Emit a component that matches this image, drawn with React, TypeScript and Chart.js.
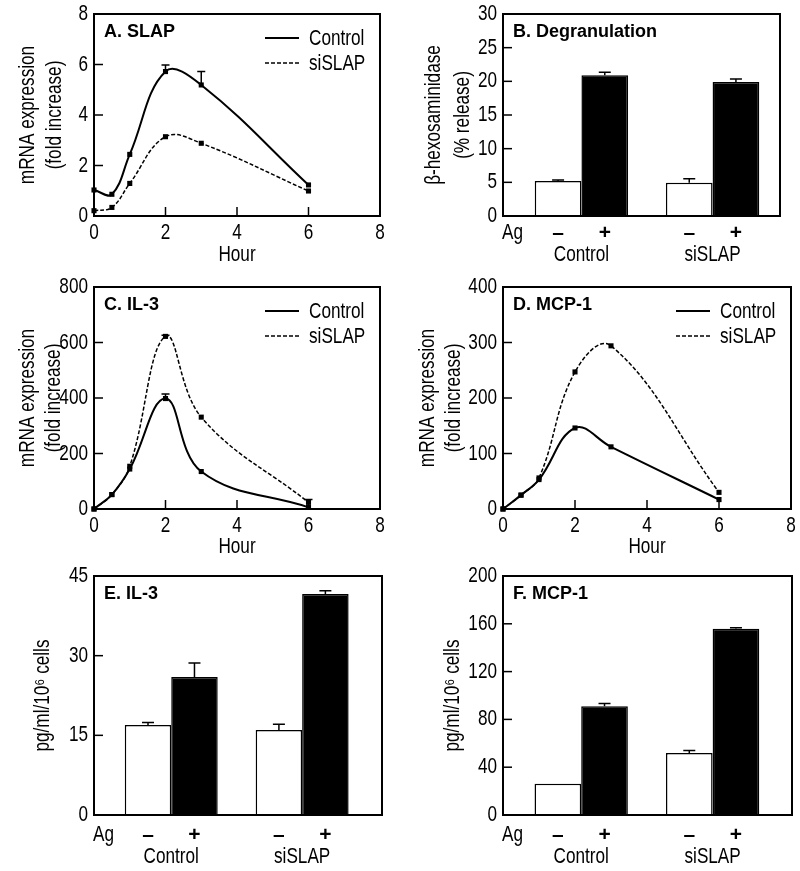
import React, { useEffect, useRef } from 'react';
import { Chart, registerables } from 'chart.js';
Chart.register(...registerables);

const WIDE = '"Liberation Sans", Arial, sans-serif';
const NARROW_X = 0.78; // narrow (Helvetica-Narrow-like) text
const TEXT_SIZE = 22;

// ---------------- data ----------------
const hours = [0, 0.5, 1, 2, 3, 6];
const seriesNames = ['Control', 'siSLAP'];

// A. SLAP mRNA (fold increase)
const slapControl = [1.03, 0.86, 2.44, 5.72, 5.19, 1.23];
const slapControlErr = [0, 0, 0, 0.26, 0.53, 0];
const slapSi = [0.21, 0.34, 1.29, 3.14, 2.88, 0.99];
const slapSiErr = [0, 0, 0, 0, 0, 0];

// C. IL-3 mRNA
const il3Control = [0, 52, 144, 398, 135, 6];
const il3ControlErr = [0, 0, 0, 16, 0, 0];
const il3Si = [0, 52, 154, 622, 331, 24];
const il3SiErr = [0, 0, 0, 4, 0, 10];

// D. MCP-1 mRNA
const mcpControl = [0, 25, 53, 146, 112, 17];
const mcpControlErr = [0, 0, 0, 0, 0, 0];
const mcpSi = [0, 25, 56, 247, 294, 30];
const mcpSiErr = [0, 0, 0, 0, 0, 0];

// Bar panels
const groupLabels = ['Control', 'siSLAP'];
const agSigns = ['–', '+'];

// B. Degranulation (% release)
const degranMinus = [5.2, 4.95];
const degranMinusErr = [0.15, 0.6];
const degranPlus = [20.9, 19.9];
const degranPlusErr = [0.45, 0.45];

// E. IL-3 protein (pg/ml/10^6 cells)
const il3ElisaMinus = [16.95, 16.0];
const il3ElisaMinusErr = [0.45, 1.1];
const il3ElisaPlus = [26.0, 41.6];
const il3ElisaPlusErr = [2.6, 0.6];

// F. MCP-1 protein
const mcpElisaMinus = [26.2, 51.8];
const mcpElisaMinusErr = [0, 2.2];
const mcpElisaPlus = [91.0, 155.9];
const mcpElisaPlusErr = [2.4, 0.8];

// ---------------- text helpers ----------------
function txt(ctx: any, s: string, x: number, y: number, align: string, size = TEXT_SIZE, bold = false, sx = NARROW_X, rot = 0) {
  ctx.save();
  ctx.translate(x, y);
  if (rot) ctx.rotate(rot);
  ctx.scale(sx, 1);
  ctx.font = `${bold ? 'bold ' : ''}${size}px ${WIDE}`;
  ctx.textAlign = align;
  ctx.textBaseline = 'middle';
  ctx.fillStyle = '#000';
  ctx.fillText(s, 0, 0);
  ctx.restore();
}

// ---------------- plugins ----------------
const decorPlugin = {
  id: 'decor',
  afterDraw(chart: any, _args: any, o: any) {
    const { ctx, chartArea: a } = chart;
    ctx.save();
    ctx.strokeStyle = '#000';
    ctx.fillStyle = '#000';
    ctx.lineWidth = 1.5;
    const ys = chart.scales.y;
    ys.ticks.forEach((t: any) => {
      const p = ys.getPixelForValue(t.value);
      txt(ctx, String(t.label), a.left - 6, p, 'right');
      if (p <= a.top + 1 || p >= a.bottom - 1) return;
      ctx.beginPath();
      ctx.moveTo(a.left, p);
      ctx.lineTo(a.left + 9, p);
      ctx.stroke();
    });
    if (o.xTicks) {
      const xs = chart.scales.x;
      xs.ticks.forEach((t: any) => {
        const p = xs.getPixelForValue(t.value);
        txt(ctx, String(t.label), p, a.bottom + 16.5, 'center');
        if (p <= a.left + 1 || p >= a.right - 1) return;
        ctx.beginPath();
        ctx.moveTo(p, a.bottom);
        ctx.lineTo(p, a.bottom - 9);
        ctx.stroke();
      });
      txt(ctx, o.xTitle, (a.left + a.right) / 2, o.xTitleY, 'center');
    }
    // y-axis title (rotated)
    const yc = (a.top + a.bottom) / 2;
    (o.yTitle as string[]).forEach((line: string, i: number) => {
      txt(ctx, line, o.yTitleX[i], yc, 'center', TEXT_SIZE, false, NARROW_X, -Math.PI / 2);
    });
    // frame
    ctx.lineWidth = 2;
    ctx.strokeRect(a.left, a.top, a.right - a.left, a.bottom - a.top);
    // panel title
    txt(ctx, o.title, a.left + 10, a.top + 18, 'left', 18, true, 1);
    // legend
    if (o.legend) {
      chart.data.datasets.forEach((ds: any, i: number) => {
        const y = a.top + 24 + i * 25;
        ctx.beginPath();
        ctx.lineWidth = ds.borderWidth;
        ctx.setLineDash(ds.borderDash || []);
        ctx.moveTo(a.right - 115, y);
        ctx.lineTo(a.right - 81, y);
        ctx.stroke();
        ctx.setLineDash([]);
        txt(ctx, ds.label, a.right - 71, y + 1, 'left');
      });
    }
    // bar x labels
    if (o.barLabels) {
      txt(ctx, 'Ag', a.left - 1, a.bottom + o.agOff, 'left');
      const m0 = chart.getDatasetMeta(0);
      const m1 = chart.getDatasetMeta(1);
      [m0, m1].forEach((m: any, d: number) => {
        m.data.forEach((el: any) => {
          txt(ctx, agSigns[d], el.x, a.bottom + o.agOff, 'center', 21, true, 1);
        });
      });
      m0.data.forEach((el: any, i: number) => {
        const cx = (el.x + m1.data[i].x) / 2;
        txt(ctx, groupLabels[i], cx, a.bottom + o.grpOff, 'center');
      });
    }
    ctx.restore();
  },
};

const errorPlugin = {
  id: 'errbars',
  afterDatasetsDraw(chart: any, _args: any, o: any) {
    const { ctx } = chart;
    const ys = chart.scales.y;
    ctx.save();
    ctx.strokeStyle = '#000';
    ctx.lineWidth = 1.5;
    chart.data.datasets.forEach((ds: any, d: number) => {
      const meta = chart.getDatasetMeta(d);
      const vals: number[] = ds.values;
      const errs: number[] = ds.errors || [];
      meta.data.forEach((el: any, i: number) => {
        const e = errs[i];
        if (!e) return;
        const y0 = ys.getPixelForValue(vals[i]);
        const y1 = ys.getPixelForValue(vals[i] + e);
        ctx.beginPath();
        ctx.moveTo(el.x, y0);
        ctx.lineTo(el.x, y1);
        ctx.moveTo(el.x - o.cap / 2, y1);
        ctx.lineTo(el.x + o.cap / 2, y1);
        ctx.stroke();
      });
    });
    ctx.restore();
  },
};

type Rect = { l: number; t: number; w: number; h: number };

function yAxis(p: any) {
  return {
    type: 'linear',
    min: p.yMin,
    max: p.yMax,
    ticks: { stepSize: p.yStep, display: false },
    grid: { display: false, drawTicks: false },
    border: { display: false },
    title: { display: false },
    afterFit: (s: any) => {
      s.width = p.area.l - p.canvas.l;
    },
  };
}

function layoutOf(p: any) {
  return {
    padding: {
      left: 0,
      top: p.area.t - p.canvas.t,
      right: p.canvas.l + p.canvas.w - p.area.r,
      bottom: 0,
    },
  };
}

function decorOpts(p: any, extra: any) {
  return {
    title: p.title,
    yTitle: p.yTitle,
    yTitleX: p.yTitleX.map((x: number) => x - p.canvas.l),
    ...extra,
  };
}

function lineConfig(p: any) {
  const xH = p.canvas.t + p.canvas.h - p.area.b;
  return {
    type: 'line',
    data: {
      datasets: p.series.map((s: any) => ({
        label: s.label,
        data: hours.map((h, i) => ({ x: h, y: s.values[i] })),
        values: s.values,
        errors: s.errors,
        borderColor: '#000',
        backgroundColor: '#000',
        borderWidth: s.dashed ? 1.5 : 2,
        borderDash: s.dashed ? [4, 2] : [],
        tension: 0.4,
        pointStyle: 'rect',
        pointRadius: 3.6,
        pointBackgroundColor: '#000',
        pointBorderColor: '#000',
        pointBorderWidth: 0,
        fill: false,
        clip: false,
      })),
    },
    options: {
      animation: false,
      responsive: false,
      devicePixelRatio: 1,
      layout: layoutOf(p),
      plugins: {
        legend: { display: false },
        tooltip: { enabled: false },
        decor: decorOpts(p, { legend: true, xTicks: true, xTitle: 'Hour', xTitleY: p.hourY - p.canvas.t }),
        errbars: { cap: 8 },
      },
      scales: {
        x: {
          type: 'linear',
          min: 0,
          max: 8,
          ticks: { stepSize: 2, display: false },
          grid: { display: false, drawTicks: false },
          border: { display: false },
          title: { display: false },
          afterFit: (s: any) => {
            s.height = xH;
          },
        },
        y: yAxis(p),
      },
    },
    plugins: [decorPlugin, errorPlugin],
  };
}

function barConfig(p: any) {
  const xH = p.canvas.t + p.canvas.h - p.area.b;
  const mk = (vals: number[], errs: number[], fillC: string) => ({
    label: fillC,
    data: groupLabels.map((_g, i) => ({ x: i + 1, y: vals[i] })),
    values: vals,
    errors: errs,
    backgroundColor: fillC,
    borderColor: '#000',
    borderWidth: 1.5,
    categoryPercentage: p.catPct,
    barPercentage: 1,
  });
  return {
    type: 'bar',
    data: {
      datasets: [mk(p.minus, p.minusErr, '#ffffff'), mk(p.plus, p.plusErr, '#000000')],
    },
    options: {
      animation: false,
      responsive: false,
      devicePixelRatio: 1,
      layout: layoutOf(p),
      plugins: {
        legend: { display: false },
        tooltip: { enabled: false },
        decor: decorOpts(p, { legend: false, xTicks: false, barLabels: true, agOff: p.agOff, grpOff: p.grpOff }),
        errbars: { cap: 12 },
      },
      scales: {
        x: {
          type: 'linear',
          min: p.xMin,
          max: p.xMax,
          offset: false,
          ticks: { display: false },
          grid: { display: false, drawTicks: false, offset: false },
          border: { display: false },
          afterBuildTicks: (s: any) => {
            s.ticks = groupLabels.map((_g, i) => ({ value: i + 1 }));
          },
          afterFit: (s: any) => {
            s.height = xH;
          },
        },
        y: yAxis(p),
      },
    },
    plugins: [decorPlugin, errorPlugin],
  };
}

const mrnaTitle = ['mRNA expression', '(fold increase)'];
const elisaTitle = ['pg/ml/10\u2076 cells'];

const cA = { l: 0, t: 0, w: 400, h: 275 };
const cB = { l: 400, t: 0, w: 400, h: 275 };
const cC = { l: 0, t: 270, w: 400, h: 295 };
const cD = { l: 400, t: 270, w: 400, h: 295 };
const cE = { l: 0, t: 560, w: 400, h: 311 };
const cF = { l: 400, t: 560, w: 400, h: 311 };

const panels: { canvas: Rect; make: () => any }[] = [
  {
    canvas: cA,
    make: () =>
      lineConfig({
        canvas: cA,
        area: { l: 94, t: 14, r: 380, b: 216 },
        yMin: 0, yMax: 8, yStep: 2,
        yTitle: mrnaTitle, yTitleX: [28, 55],
        hourY: 255,
        title: 'A. SLAP',
        series: [
          { label: seriesNames[0], values: slapControl, errors: slapControlErr, dashed: false },
          { label: seriesNames[1], values: slapSi, errors: slapSiErr, dashed: true },
        ],
      }),
  },
  {
    canvas: cB,
    make: () =>
      barConfig({
        canvas: cB,
        area: { l: 503, t: 14, r: 780, b: 216 },
        yMin: 0, yMax: 30, yStep: 5,
        yTitle: ['\u03b2-hexosaminidase', '(% release)'], yTitleX: [434, 463],
        xMin: 0.402, xMax: 2.514, catPct: 0.712,
        minus: degranMinus, minusErr: degranMinusErr, plus: degranPlus, plusErr: degranPlusErr,
        agOff: 17, grpOff: 39,
        title: 'B. Degranulation',
      }),
  },
  {
    canvas: cC,
    make: () =>
      lineConfig({
        canvas: cC,
        area: { l: 94, t: 287, r: 380, b: 509 },
        yMin: 0, yMax: 800, yStep: 200,
        yTitle: mrnaTitle, yTitleX: [28, 54],
        hourY: 547,
        title: 'C. IL-3',
        series: [
          { label: seriesNames[0], values: il3Control, errors: il3ControlErr, dashed: false },
          { label: seriesNames[1], values: il3Si, errors: il3SiErr, dashed: true },
        ],
      }),
  },
  {
    canvas: cD,
    make: () =>
      lineConfig({
        canvas: cD,
        area: { l: 503, t: 287, r: 791, b: 509 },
        yMin: 0, yMax: 400, yStep: 100,
        yTitle: mrnaTitle, yTitleX: [428, 454],
        hourY: 547,
        title: 'D. MCP-1',
        series: [
          { label: seriesNames[0], values: mcpControl, errors: mcpControlErr, dashed: false },
          { label: seriesNames[1], values: mcpSi, errors: mcpSiErr, dashed: true },
        ],
      }),
  },
  {
    canvas: cE,
    make: () =>
      barConfig({
        canvas: cE,
        area: { l: 94, t: 576, r: 382, b: 815 },
        yMin: 0, yMax: 45, yStep: 15,
        yTitle: elisaTitle, yTitleX: [43],
        xMin: 0.41, xMax: 2.61, catPct: 0.71,
        minus: il3ElisaMinus, minusErr: il3ElisaMinusErr, plus: il3ElisaPlus, plusErr: il3ElisaPlusErr,
        agOff: 20, grpOff: 42,
        title: 'E. IL-3',
      }),
  },
  {
    canvas: cF,
    make: () =>
      barConfig({
        canvas: cF,
        area: { l: 503, t: 576, r: 792, b: 815 },
        yMin: 0, yMax: 200, yStep: 40,
        yTitle: elisaTitle, yTitleX: [453],
        xMin: 0.405, xMax: 2.604, catPct: 0.71,
        minus: mcpElisaMinus, minusErr: mcpElisaMinusErr, plus: mcpElisaPlus, plusErr: mcpElisaPlusErr,
        agOff: 20, grpOff: 42,
        title: 'F. MCP-1',
      }),
  },
];

function Panel({ canvas, make }: { canvas: Rect; make: () => any }) {
  const ref = useRef<HTMLCanvasElement>(null);
  useEffect(() => {
    if (!ref.current) return;
    const chart = new Chart(ref.current, make());
    return () => chart.destroy();
  }, []);
  return (
    <canvas
      ref={ref}
      width={canvas.w}
      height={canvas.h}
      style={{ position: 'absolute', left: canvas.l, top: canvas.t, width: canvas.w, height: canvas.h }}
    />
  );
}

export default function App() {
  return (
    <div style={{ position: 'absolute', left: 0, top: 0, width: 800, height: 871, background: '#fff' }}>
      {panels.map((p, i) => (
        <Panel key={i} canvas={p.canvas} make={p.make} />
      ))}
    </div>
  );
}
